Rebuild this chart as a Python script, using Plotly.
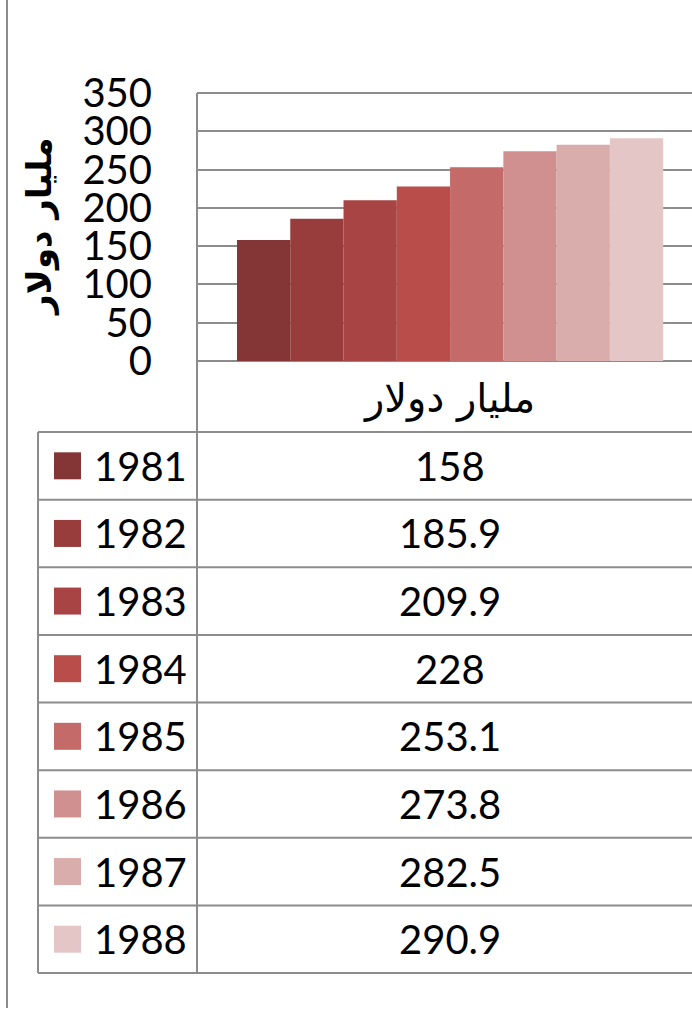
import plotly.graph_objects as go

years = ["1981", "1982", "1983", "1984", "1985", "1986", "1987", "1988"]
values = [158, 185.9, 209.9, 228, 253.1, 273.8, 282.5, 290.9]
value_labels = ["158", "185.9", "209.9", "228", "253.1", "273.8", "282.5", "290.9"]
colors = ["#843535", "#983D3B", "#A84544", "#B84D4A", "#C46A68", "#D09090", "#DAADAD", "#E5C6C6"]
category = "مليار دولار"
y_title = "مليار دولار"

W, H = 692, 1010
def px(x):
    return x / W
def py(y):
    return 1 - y / H

LINE = "#8C8C8C"
NUMFONT = "Lato, Carlito, 'Open Sans', sans-serif"
ARFONT = "'DejaVu Sans', sans-serif"

fig = go.Figure()
for yr, v, c in zip(years, values, colors):
    fig.add_trace(go.Bar(x=[category], y=[v], name=yr, marker=dict(color=c, line=dict(width=0)),
                         showlegend=False))

plot_top, plot_bot = 93, 361
fig.update_layout(
    width=W, height=H, autosize=False, margin=dict(l=0, r=0, t=0, b=0, pad=0),
    paper_bgcolor="white", plot_bgcolor="white",
    barmode="group", bargap=0.158, bargroupgap=0,
    xaxis=dict(domain=[px(197), 1], range=[-0.5, 0.478], showgrid=False, showline=False,
               zeroline=False, ticks="", ticklabelstandoff=10, automargin=False,
               tickfont=dict(family=ARFONT, size=40, color="black")),
    yaxis=dict(domain=[py(plot_bot), py(plot_top)], range=[0, 350], dtick=50, tick0=0,
               showgrid=True, gridcolor=LINE, gridwidth=2, zeroline=True, zerolinecolor=LINE,
               zerolinewidth=2, showline=False, ticks="", ticklabelstandoff=44, automargin=False,
               tickfont=dict(family=NUMFONT, size=40, color="black")),
    font=dict(family=NUMFONT, color="black"),
)

shapes = []
def hline(y, x0, x1):
    shapes.append(dict(type="line", xref="paper", yref="paper", x0=px(x0), x1=px(x1),
                       y0=py(y), y1=py(y), line=dict(color=LINE, width=2)))
def vline(x, y0, y1):
    shapes.append(dict(type="line", xref="paper", yref="paper", x0=px(x), x1=px(x),
                       y0=py(y0), y1=py(y1), line=dict(color=LINE, width=2)))

# outer left border
vline(7, 0, 1008)
# top line of plot
hline(plot_top, 197, W)
# axis / column divider
vline(197, plot_top, 973)

table_top, table_bot = 432, 973
n = len(years)
row_h = (table_bot - table_top) / n
for i in range(n + 1):
    hline(table_top + i * row_h, 38, W)
vline(38, table_top, table_bot)

annotations = []
for i, (yr, lab, c) in enumerate(zip(years, value_labels, colors)):
    yc = table_top + (i + 0.5) * row_h
    shapes.append(dict(type="rect", xref="paper", yref="paper", x0=px(54), x1=px(81),
                       y0=py(yc - 13.5), y1=py(yc + 13.5), fillcolor=c, line=dict(width=0)))
    annotations.append(dict(text=yr, x=px(92), y=py(yc), xref="paper", yref="paper",
                            xanchor="left", yanchor="middle", showarrow=False,
                            font=dict(family=NUMFONT, size=40, color="black")))
    annotations.append(dict(text=lab, x=px(450), y=py(yc), xref="paper", yref="paper",
                            xanchor="center", yanchor="middle", showarrow=False,
                            font=dict(family=NUMFONT, size=40, color="black")))

annotations.append(dict(text="<b>" + y_title + "</b>", x=px(40), y=py(227), xref="paper", yref="paper",
                        xanchor="center", yanchor="middle", textangle=-90, showarrow=False,
                        font=dict(family=ARFONT, size=34, color="black")))

fig.update_layout(shapes=shapes, annotations=annotations)
fig.write_html("out.html")
